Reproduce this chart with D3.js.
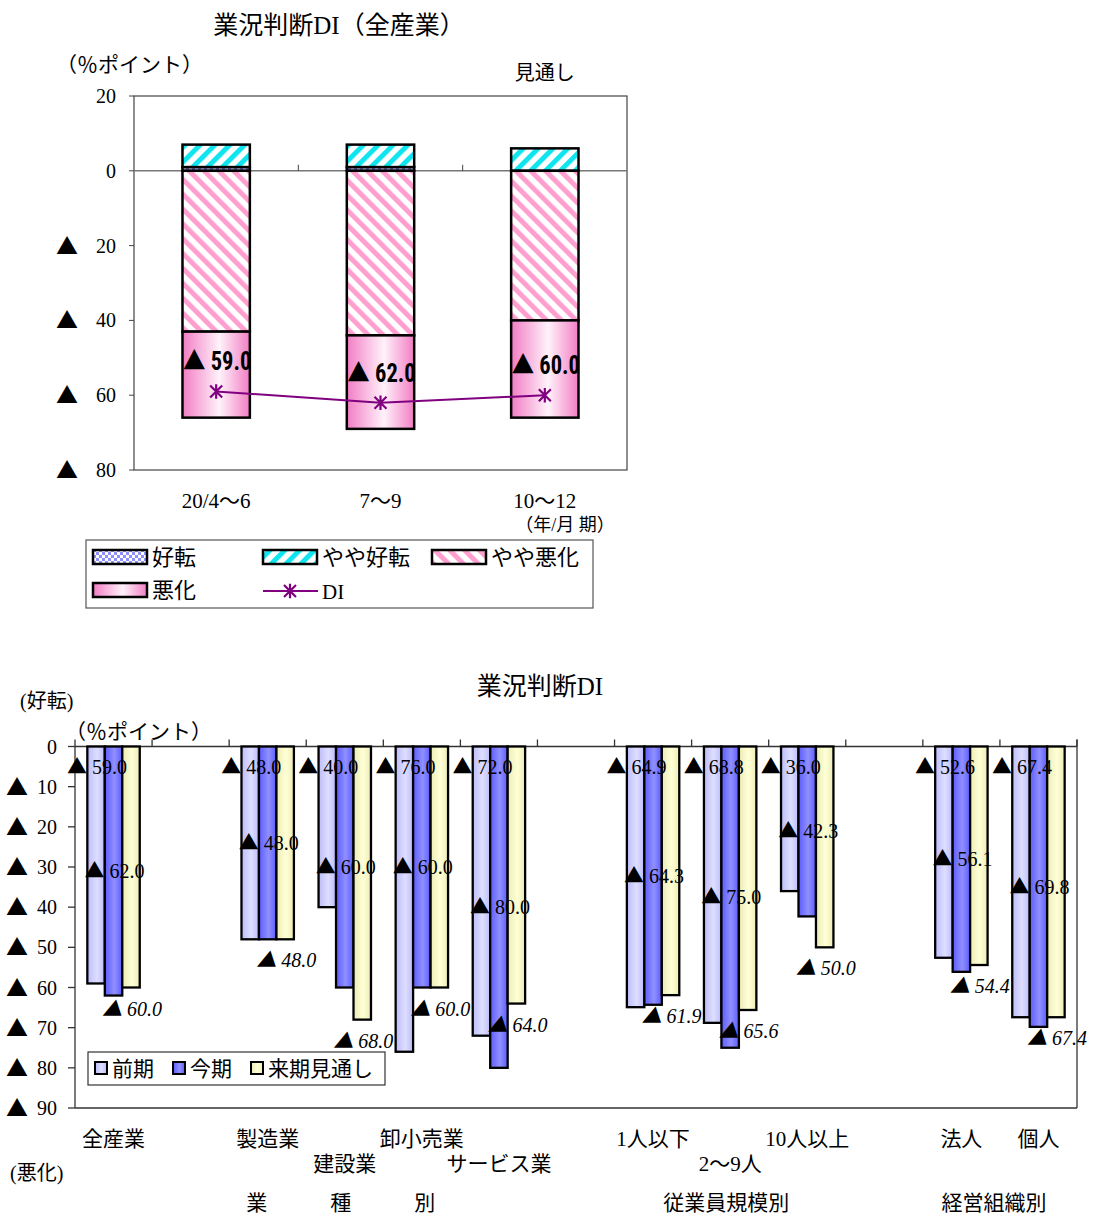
<!DOCTYPE html>
<html>
<head>
<meta charset="utf-8">
<script src="https://cdn.jsdelivr.net/npm/d3@7"></script>
<style>
  body { margin: 0; background: #fff; }
  svg text { font-family: "Liberation Serif", "Noto Sans CJK JP", serif; fill: #000; }
  .tri { font-family: "Noto Sans CJK JP", "DejaVu Sans", sans-serif; }
</style>
</head>
<body>
<svg id="chart" width="1096" height="1218"></svg>
<script>
// ---- 業況判断DI（全産業）: stacked composition per quarter ----
const periods = ["20/4～6", "7～9", "10～12"];
const kouten = [1, 1, 0];            // 好転
const yayaKouten = [6, 6, 6];        // やや好転
const yayaAkka = [-43, -44, -40];    // やや悪化
const akka = [-23, -25, -26];        // 悪化
const diValues = [-59.0, -62.0, -60.0];
const topTicks = [20, 0, -20, -40, -60, -80];

// ---- 業況判断DI by industry / size / organisation ----
const categories = ["全産業", "", "製造業", "建設業", "卸小売業", "サービス業", "",
  "1人以下", "2～9人", "10人以上", "", "法人", "個人"];
const zenki = [-59.0, null, -48.0, -40.0, -76.0, -72.0, null, -64.9, -68.8, -36.0, null, -52.6, -67.4];
const konki = [-62.0, null, -48.0, -60.0, -60.0, -80.0, null, -64.3, -75.0, -42.3, null, -56.1, -69.8];
const raiki = [-60.0, null, -48.0, -68.0, -60.0, -64.0, null, -61.9, -65.6, -50.0, null, -54.4, -67.4];
const seriesNames = ["前期", "今期", "来期見通し"];
const bottomTicks = [0, -10, -20, -30, -40, -50, -60, -70, -80, -90];
const groupNames = ["業　　　種　　　別", "従業員規模別", "経営組織別"];
const groupMembers = [["建設業"], ["2～9人"], ["法人", "個人"]];

const svg = d3.select("#chart");
const defs = svg.append("defs");

// ---------- fills ----------
function stripes(id, color, angle) {
  const p = defs.append("pattern").attr("id", id)
    .attr("patternUnits", "userSpaceOnUse").attr("width", 10.5).attr("height", 10.5)
    .attr("patternTransform", `rotate(${angle})`);
  p.append("rect").attr("width", 10.5).attr("height", 10.5).attr("fill", "#fff");
  p.append("rect").attr("width", 5).attr("height", 10.5).attr("fill", color);
}
stripes("cyanStripe", "#10e4ee", 45);
stripes("pinkStripe", "#ff9fcf", -45);

const chk = defs.append("pattern").attr("id", "checker")
  .attr("patternUnits", "userSpaceOnUse").attr("width", 6).attr("height", 6);
chk.append("rect").attr("width", 6).attr("height", 6).attr("fill", "#fff");
chk.append("rect").attr("width", 3).attr("height", 3).attr("fill", "#8f8fff");
chk.append("rect").attr("x", 3).attr("y", 3).attr("width", 3).attr("height", 3).attr("fill", "#8f8fff");

function hGrad(id, edge, mid) {
  const g = defs.append("linearGradient").attr("id", id)
    .attr("x1", 0).attr("x2", 1).attr("y1", 0).attr("y2", 0);
  g.append("stop").attr("offset", "0%").attr("stop-color", edge);
  g.append("stop").attr("offset", "55%").attr("stop-color", mid);
  g.append("stop").attr("offset", "100%").attr("stop-color", edge);
}
hGrad("pinkGrad", "#f27dc4", "#fff2fa");
hGrad("gZenki", "#bcbcfb", "#dedeff");
hGrad("gKonki", "#5c5cff", "#9090ff");
hGrad("gRaiki", "#ececb6", "#ffffd6");

// writes "▲ 59.0" style text: the triangle marks a negative value
function valueText(sel, v, triSize) {
  if (v < 0) {
    sel.append("tspan").attr("class", "tri").attr("font-size", triSize).text("▲");
    sel.append("tspan").text("\u00a0" + Math.abs(v).toFixed(1));
  } else {
    sel.append("tspan").text(v.toFixed(1));
  }
  return sel;
}

// =====================================================================
// Top chart
// =====================================================================
const T = { left: 134, right: 627, top: 96, bottom: 470 };
const yTop = d3.scaleLinear().domain([20, -80]).range([T.top, T.bottom]);
const xTop = d3.scaleBand().domain(periods).range([T.left, T.right]);
const topBarW = xTop.bandwidth() * 0.41;

svg.append("text").attr("x", 339).attr("y", 34).attr("text-anchor", "middle")
  .attr("font-size", 25).text("業況判断DI（全産業）");
svg.append("text").attr("x", 56).attr("y", 72).attr("font-size", 21).text("（％ポイント）");
svg.append("text").attr("x", xTop(periods[2]) + xTop.bandwidth() / 2).attr("y", 80)
  .attr("text-anchor", "middle").attr("font-size", 20).text("見通し");

svg.append("rect").attr("x", T.left).attr("y", T.top)
  .attr("width", T.right - T.left).attr("height", T.bottom - T.top)
  .attr("fill", "#fff").attr("stroke", "#444").attr("stroke-width", 1.2);

// y axis labels
const gTopY = svg.append("g");
topTicks.forEach(t => {
  const y = yTop(t);
  gTopY.append("line").attr("x1", T.left - 5).attr("x2", T.left).attr("y1", y).attr("y2", y)
    .attr("stroke", "#444");
  gTopY.append("text").attr("x", 116).attr("y", y + 7).attr("text-anchor", "end")
    .attr("font-size", 20).text(Math.abs(t));
  if (t < 0) gTopY.append("text").attr("class", "tri").attr("x", 56).attr("y", y + 8)
    .attr("font-size", 22).text("▲");
});

// stacked bars
const topRows = periods.map((p, i) => ({
  period: p, kouten: kouten[i], yayaKouten: yayaKouten[i], yayaAkka: yayaAkka[i], akka: akka[i]
}));
const topKeys = ["kouten", "yayaKouten", "yayaAkka", "akka"];
const topFill = { kouten: "url(#checker)", yayaKouten: "url(#cyanStripe)", yayaAkka: "url(#pinkStripe)", akka: "url(#pinkGrad)" };
const stacked = d3.stack().keys(topKeys).offset(d3.stackOffsetDiverging)(topRows);

// zero line + category ticks
svg.append("line").attr("x1", T.left).attr("x2", T.right).attr("y1", yTop(0)).attr("y2", yTop(0))
  .attr("stroke", "#777").attr("stroke-width", 1.5);
periods.slice(1).forEach(p => {
  svg.append("line").attr("x1", xTop(p)).attr("x2", xTop(p))
    .attr("y1", yTop(0) - 6).attr("y2", yTop(0)).attr("stroke", "#444");
});

stacked.forEach(layer => {
  svg.append("g").selectAll("rect").data(layer).join("rect")
    .attr("x", d => xTop(d.data.period) + (xTop.bandwidth() - topBarW) / 2)
    .attr("y", d => yTop(Math.max(d[0], d[1])))
    .attr("width", topBarW)
    .attr("height", d => Math.abs(yTop(d[0]) - yTop(d[1])))
    .attr("fill", topFill[layer.key])
    .attr("stroke", "#000").attr("stroke-width", 2.5);
});

// DI line
const cx = p => xTop(p) + xTop.bandwidth() / 2;
svg.append("path").datum(diValues)
  .attr("d", d3.line().x((d, i) => cx(periods[i])).y(d => yTop(d)))
  .attr("fill", "none").attr("stroke", "#800080").attr("stroke-width", 2);

function asterisk(g, x, y, r, color) {
  const path = `M${x - r},${y - r}L${x + r},${y + r}M${x - r},${y + r}L${x + r},${y - r}M${x},${y - r * 1.2}L${x},${y + r * 1.2}`;
  g.append("path").attr("d", path).attr("stroke", color).attr("stroke-width", 2.2).attr("fill", "none");
}
diValues.forEach((v, i) => asterisk(svg, cx(periods[i]), yTop(v), 6, "#800080"));

diValues.forEach((v, i) => {
  const t = svg.append("text").attr("x", cx(periods[i]) + 1).attr("y", yTop(v) - 21)
    .attr("text-anchor", "middle")
    .style("font-family", "'Liberation Sans Narrow', 'Roboto Condensed', 'Liberation Sans', sans-serif")
    .attr("font-weight", "bold").attr("font-size", 25)
    .attr("transform", `translate(${cx(periods[i]) + 1},0) scale(0.9,1) translate(${-(cx(periods[i]) + 1)},0)`);
  valueText(t, v, 25);
});

// x labels
periods.forEach(p => {
  svg.append("text").attr("x", cx(p)).attr("y", 508).attr("text-anchor", "middle")
    .attr("font-size", 21).text(p);
});
svg.append("text").attr("x", 565).attr("y", 531).attr("text-anchor", "middle")
  .attr("font-size", 18).text("（年/月 期）");

// legend
const lg = svg.append("g");
lg.append("rect").attr("x", 86).attr("y", 540).attr("width", 507).attr("height", 68)
  .attr("fill", "#fff").attr("stroke", "#555").attr("stroke-width", 1.2);
const topLegend = [
  { key: "kouten", label: "好転", x: 93, y: 557 },
  { key: "yayaKouten", label: "やや好転", x: 263, y: 557 },
  { key: "yayaAkka", label: "やや悪化", x: 432, y: 557 },
  { key: "akka", label: "悪化", x: 93, y: 590 }
];
topLegend.forEach(d => {
  lg.append("rect").attr("x", d.x).attr("y", d.y - 7).attr("width", 54).attr("height", 14)
    .attr("fill", topFill[d.key]).attr("stroke", "#000").attr("stroke-width", 2.5);
  lg.append("text").attr("x", d.x + 59).attr("y", d.y + 8).attr("font-size", 22).text(d.label);
});
lg.append("line").attr("x1", 263).attr("x2", 318).attr("y1", 591).attr("y2", 591)
  .attr("stroke", "#800080").attr("stroke-width", 2);
asterisk(lg, 290, 591, 6, "#800080");
lg.append("text").attr("x", 322).attr("y", 599).attr("font-size", 21).text("DI");

// =====================================================================
// Bottom chart
// =====================================================================
const B = { left: 75, right: 1077, top: 746.5, bottom: 1108 };
const yB = d3.scaleLinear().domain([0, -90]).range([B.top, B.bottom]);
const xB = d3.scaleBand().domain(d3.range(categories.length)).range([B.left, B.right]);
const inner = d3.scaleBand().domain([0, 1, 2]).range([xB.bandwidth() * 0.16, xB.bandwidth() * 0.84]);
const bw = inner.bandwidth();

svg.append("text").attr("x", 540).attr("y", 695).attr("text-anchor", "middle")
  .attr("font-size", 25).text("業況判断DI");
svg.append("text").attr("x", 20).attr("y", 708).attr("font-size", 20).text("(好転)");
svg.append("text").attr("x", 65).attr("y", 739).attr("font-size", 21).text("（％ポイント）");
svg.append("text").attr("x", 10).attr("y", 1180).attr("font-size", 20).text("(悪化)");

// frame
const frame = svg.append("g").attr("stroke", "#333").attr("stroke-width", 1.3);
frame.append("line").attr("x1", B.left).attr("x2", B.left).attr("y1", B.top).attr("y2", B.bottom);
frame.append("line").attr("x1", B.left).attr("x2", B.right).attr("y1", B.bottom).attr("y2", B.bottom);
frame.append("line").attr("x1", B.right).attr("x2", B.right).attr("y1", B.top - 7).attr("y2", B.bottom);
frame.append("line").attr("x1", B.left).attr("x2", B.right).attr("y1", B.top).attr("y2", B.top)
  .attr("stroke-width", 1.6);
d3.range(categories.length + 1).forEach(i => {
  const x = i < categories.length ? xB(i) : B.right;
  frame.append("line").attr("x1", x).attr("x2", x).attr("y1", B.top - 7).attr("y2", B.top);
});
bottomTicks.forEach(t => {
  const y = yB(t);
  frame.append("line").attr("x1", B.left - 7).attr("x2", B.left).attr("y1", y).attr("y2", y);
  svg.append("text").attr("x", 57).attr("y", y + 7).attr("text-anchor", "end")
    .attr("font-size", 20).text(Math.abs(t));
  if (t < 0) svg.append("text").attr("class", "tri").attr("x", 6).attr("y", y + 8)
    .attr("font-size", 22).text("▲");
});

// bars
const seriesVals = [zenki, konki, raiki];
const seriesFill = ["url(#gZenki)", "url(#gKonki)", "url(#gRaiki)"];
seriesVals.forEach((vals, s) => {
  const rows = vals.map((v, i) => ({ i, v })).filter(d => d.v !== null);
  svg.append("g").selectAll("rect").data(rows).join("rect")
    .attr("x", d => xB(d.i) + inner(s))
    .attr("y", yB(0))
    .attr("width", bw)
    .attr("height", d => yB(d.v) - yB(0))
    .attr("fill", seriesFill[s])
    .attr("stroke", "#000").attr("stroke-width", 2.3);
});

// data labels
const barCx = (i, s) => xB(i) + inner(s) + bw / 2;
const labelG = svg.append("g").attr("font-size", 20).attr("text-anchor", "middle");
zenki.forEach((v, i) => {
  if (v === null) return;
  valueText(labelG.append("text").attr("x", barCx(i, 0) + 1).attr("y", yB(-5) + 7), v, 20);
});
konki.forEach((v, i) => {
  if (v === null) return;
  valueText(labelG.append("text").attr("x", barCx(i, 1) + 1).attr("y", yB(v / 2) + 7), v, 20);
});
raiki.forEach((v, i) => {
  if (v === null) return;
  valueText(labelG.append("text").attr("x", barCx(i, 2) + 1).attr("y", yB(v) + 28)
    .attr("font-style", "italic"), v, 20);
});

// legend
const lb = svg.append("g");
lb.append("rect").attr("x", 88).attr("y", 1052).attr("width", 297).attr("height", 33)
  .attr("fill", "#fff").attr("stroke", "#333").attr("stroke-width", 1.2);
const legX = [95, 173, 251];
seriesNames.forEach((n, s) => {
  lb.append("rect").attr("x", legX[s]).attr("y", 1062).attr("width", 12).attr("height", 12)
    .attr("fill", seriesFill[s]).attr("stroke", "#000").attr("stroke-width", 2);
  lb.append("text").attr("x", legX[s] + 17).attr("y", 1076).attr("font-size", 21).text(n);
});

// category labels (staggered onto two rows when neighbours would collide)
const catCx = i => xB(i) + xB.bandwidth() / 2;
let lastRow1End = -Infinity;
categories.forEach((c, i) => {
  if (!c) return;
  const t = svg.append("text").attr("x", catCx(i)).attr("text-anchor", "middle")
    .attr("font-size", 21).text(c);
  const w = t.node().getComputedTextLength();
  const start = catCx(i) - w / 2;
  if (start - lastRow1End < 20) {
    t.attr("y", 1171);
  } else {
    t.attr("y", 1146);
    lastRow1End = catCx(i) + w / 2;
  }
});

// group captions
groupNames.forEach((g, k) => {
  const xs = groupMembers[k].map(m => catCx(categories.indexOf(m)));
  svg.append("text").attr("x", d3.mean(xs) - (k === 2 ? 6 : 4)).attr("y", 1210)
    .attr("text-anchor", "middle").attr("font-size", 21).text(g);
});
</script>
</body>
</html>
